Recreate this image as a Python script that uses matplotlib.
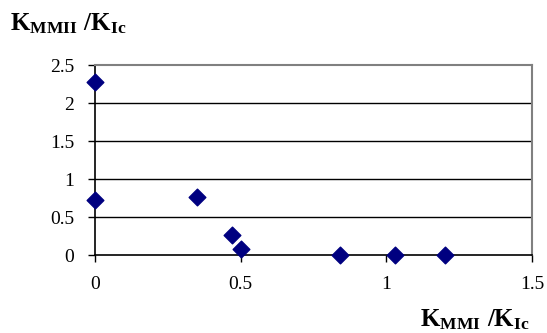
import matplotlib
matplotlib.use("Agg")
import matplotlib.pyplot as plt

plt.rcParams['font.family'] = ['Liberation Serif']
plt.rcParams['mathtext.fontset'] = 'custom'
plt.rcParams['mathtext.rm'] = 'Liberation Serif:bold'
plt.rcParams['mathtext.it'] = 'Liberation Serif:bold'
plt.rcParams['mathtext.bf'] = 'Liberation Serif:bold'

k_mmi = [0.0, 0.0, 0.35, 0.47, 0.50, 0.84, 1.03, 1.20]
k_mmii = [2.28, 0.73, 0.76, 0.26, 0.08, 0.0, 0.0, 0.0]
x_ticks = [0, 0.5, 1, 1.5]
x_labels = ["0", "0.5", "1", "1.5"]
y_ticks = [0, 0.5, 1, 1.5, 2, 2.5]
y_labels = ["0", "0.5", "1", "1.5", "2", "2.5"]

fig = plt.figure(figsize=(5.47, 3.33), dpi=100)
ax = fig.add_axes([95/547, 1-255/333, 437/547, 190/333])

# horizontal grid lines (black), frame top/right grey
for y in y_ticks[1:-1]:
    ax.axhline(y, color="black", linewidth=1, zorder=1)

ax.scatter(k_mmi, k_mmii, marker="D", s=72, color="#000080", zorder=3, clip_on=False)

ax.set_xlim(0, 1.5)
ax.set_ylim(0, 2.5)
ax.set_xticks(x_ticks)
ax.set_xticklabels(x_labels)
ax.set_yticks(y_ticks)
ax.set_yticklabels(y_labels)
ax.tick_params(labelsize=14, direction="out", length=5, width=1, colors="black")
ax.tick_params(axis="x", pad=10)
ax.tick_params(axis="y", pad=10)

ax.spines["left"].set_color("black")
ax.spines["bottom"].set_color("black")
ax.spines["left"].set_linewidth(1.2)
ax.spines["bottom"].set_linewidth(1.2)
ax.spines["top"].set_color("#808080")
ax.spines["right"].set_color("#808080")
ax.spines["top"].set_linewidth(1.5)
ax.spines["right"].set_linewidth(1.5)

fig.text(10/547, 1-24/333, r"$\mathrm{K_{MMII}\ /K_{Ic}}$", fontsize=18, va="center", ha="left")
fig.text(530/547, 1-320/333, r"$\mathrm{K_{MMI}\ /K_{Ic}}$", fontsize=18, va="center", ha="right")

fig.savefig("out.png", dpi=100)
